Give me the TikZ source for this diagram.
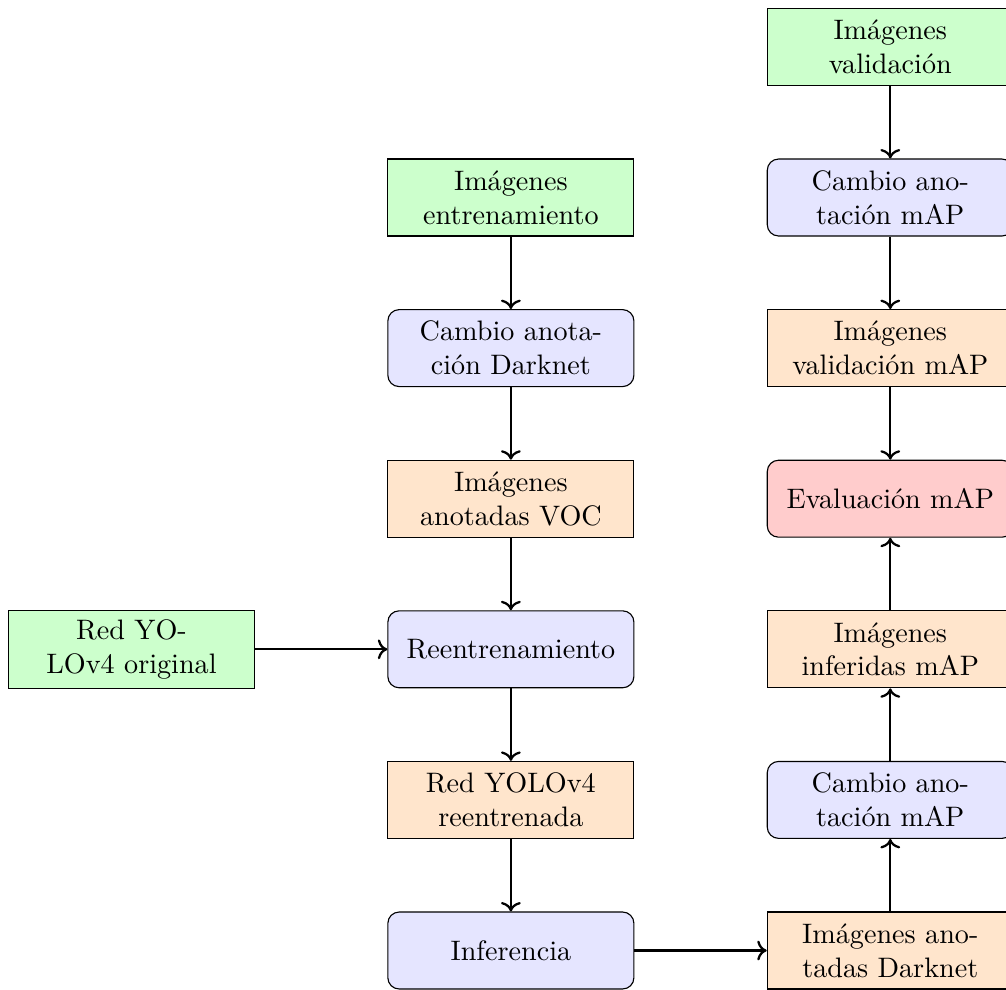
\documentclass[tikz,border=0pt]{standalone}
\usepackage{fontspec}
\usepackage{tikz}
\usetikzlibrary{positioning, arrows.meta, calc}
\tikzset{
  input/.style={rectangle, minimum width=3.07cm, minimum height=0.96cm, align=center, draw=black, fill=green!20},
  process/.style={rectangle, rounded corners, minimum width=3.07cm, minimum height=0.96cm, align=center, draw=black, fill=blue!10},
  data/.style={rectangle, minimum width=3.07cm, minimum height=0.96cm, align=center, draw=black, fill=orange!20},
  result/.style={rectangle, rounded corners, minimum width=3.07cm, minimum height=0.96cm, align=center, draw=black, fill=red!20},
  arrow/.style={thick,->}
}
\begin{document}
\begin{tikzpicture}[node distance=0.905cm and 1.65cm]
        % columna central: entrenamiento
        \node (reent) [process] {Reentrenamiento};
        \node (orig) [input, left=of reent] {Red YO-\\LOv4 original};
        \node (anotvoc) [data, above=of reent] {Imágenes\\anotadas VOC};
        \node (camdark) [process, above=of anotvoc] {Cambio anota-\\ción Darknet};
        \node (entimg) [input, above=of camdark] {Imágenes\\entrenamiento};
        \node (yolore) [data, below=of reent] {Red YOLOv4\\reentrenada};
        \node (infer) [process, below=of yolore] {Inferencia};

        % columna derecha: evaluacion
        \node (darkimg) [data, right=of infer] {Imágenes ano-\\tadas Darknet};
        \node (cammap2) [process, above=of darkimg] {Cambio ano-\\tación mAP};
        \node (infimg) [data, above=of cammap2] {Imágenes\\inferidas mAP};
        \node (evalmap) [result, above=of infimg] {Evaluación mAP};
        \node (valmap) [data, above=of evalmap] {Imágenes\\validación mAP};
        \node (cammap1) [process, above=of valmap] {Cambio ano-\\tación mAP};
        \node (valimg) [input, above=of cammap1] {Imágenes\\validación};

        \draw [arrow] (entimg) -- (camdark);
        \draw [arrow] (camdark) -- (anotvoc);
        \draw [arrow] (anotvoc) -- (reent);
        \draw [arrow] (orig) -- (reent);
        \draw [arrow] (reent) -- (yolore);
        \draw [arrow] (yolore) -- (infer);
        \draw [arrow] (infer) -- (darkimg);

        \draw [arrow] (darkimg) -- (cammap2);
        \draw [arrow] (cammap2) -- (infimg);
        \draw [arrow] (infimg) -- (evalmap);
        \draw [arrow] (valimg) -- (cammap1);
        \draw [arrow] (cammap1) -- (valmap);
        \draw [arrow] (valmap) -- (evalmap);

        % marco recortado como en la figura
        \coordinate (tl) at (orig.west |- valimg.north);
        \pgfresetboundingbox
        \useasboundingbox ([shift={(-2.8pt,2.8pt)}]tl) rectangle ([xshift=-2.8pt]darkimg.south east);
    \end{tikzpicture}
\end{document}
